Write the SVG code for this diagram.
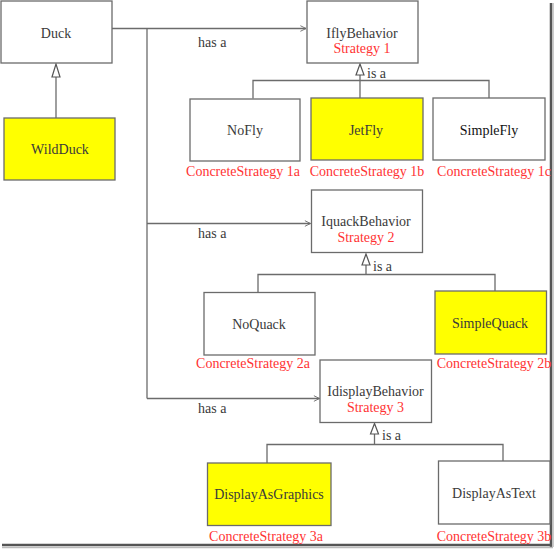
<svg xmlns="http://www.w3.org/2000/svg" width="555" height="549" viewBox="0 0 555 549">
<defs>
<style>
.box{fill:#fff;stroke:#6b6b6b;stroke-width:1.3}
.hl{fill:#ffff00;stroke:#6b6b6b;stroke-width:1.3}
.t{font-family:"Liberation Serif","DejaVu Serif",serif;font-size:14px;fill:#3a3a3a;text-anchor:middle}
.r{font-family:"Liberation Serif","DejaVu Serif",serif;font-size:14px;fill:#ff3333;text-anchor:middle}
.lb{font-family:"Liberation Serif","DejaVu Serif",serif;font-size:14px;fill:#3a3a3a}
.ln{fill:none;stroke:#6b6b6b;stroke-width:1.3}
.tri{fill:#fff;stroke:#555;stroke-width:1.2}
</style>
<marker id="open" viewBox="0 0 10 10" refX="9" refY="5" markerWidth="7" markerHeight="7" orient="auto" markerUnits="userSpaceOnUse">
<path d="M1,1 L9,5 L1,9" fill="none" stroke="#6b6b6b" stroke-width="1.3"/>
</marker>
</defs>
<rect width="555" height="549" fill="#fff"/>

<g id="frame">
<line x1="551" y1="3" x2="551" y2="547" stroke="#555" stroke-width="2.5"/>
<line x1="553" y1="3" x2="553" y2="547" stroke="#bbb" stroke-width="1.5"/>
<line x1="2" y1="545" x2="552" y2="545" stroke="#555" stroke-width="2.5"/>
<line x1="2" y1="547.5" x2="553" y2="547.5" stroke="#bbb" stroke-width="1.5"/>
</g>

<g id="connectors">
<polyline class="ln" points="56,77 56,118"/>
<polygon class="tri" points="56,64 52,77 60,77"/>
<line class="ln" x1="112" y1="28.5" x2="306" y2="28.5" marker-end="url(#open)"/>
<line class="ln" x1="147" y1="28.5" x2="147" y2="398.5"/>
<line class="ln" x1="147" y1="223.5" x2="310.5" y2="223.5" marker-end="url(#open)"/>
<line class="ln" x1="147" y1="398.5" x2="319.5" y2="398.5" marker-end="url(#open)"/>

<polyline class="ln" points="253,98.5 253,80.5 489,80.5 489,98"/>
<line class="ln" x1="360" y1="75" x2="360" y2="98"/>
<polygon class="tri" points="360,64 356,75 364,75"/>

<polyline class="ln" points="258,292.5 258,274.5 495,274.5 495,291"/>
<line class="ln" x1="366" y1="265" x2="366" y2="274.5"/>
<polygon class="tri" points="366,254 362,265 370,265"/>

<polyline class="ln" points="267,463 267,444.5 503,444.5 503,461"/>
<line class="ln" x1="374.5" y1="434" x2="374.5" y2="444.5"/>
<polygon class="tri" points="374.5,423.5 370.5,434 378.5,434"/>

<text class="lb" x="198" y="47">has a</text>
<text class="lb" x="198" y="238">has a</text>
<text class="lb" x="198" y="413">has a</text>
<text class="lb" x="367" y="78">is a</text>
<text class="lb" x="373" y="271">is a</text>
<text class="lb" x="382" y="440">is a</text>
</g>

<g id="Duck">
<rect class="box" x="1" y="1" width="111" height="62"/>
<text class="t" x="56" y="38">Duck</text>
</g>
<g id="WildDuck">
<rect class="hl" x="4" y="118" width="111" height="62"/>
<text class="t" x="60" y="154">WildDuck</text>
</g>

<g id="IflyBehavior">
<rect class="box" x="307" y="1" width="111" height="62"/>
<text class="t" x="362" y="38">IflyBehavior</text>
<text class="r" x="362" y="53">Strategy 1</text>
</g>
<g id="NoFly">
<rect class="box" x="190" y="99" width="110" height="62"/>
<text class="t" x="245" y="135">NoFly</text>
<text class="r" x="243" y="176">ConcreteStrategy 1a</text>
</g>
<g id="JetFly">
<rect class="hl" x="311" y="98" width="112" height="62"/>
<text class="t" x="366" y="135">JetFly</text>
<text class="r" x="367" y="176">ConcreteStrategy 1b</text>
</g>
<g id="SimpleFly">
<rect class="box" x="433" y="98" width="112" height="62"/>
<text class="t" x="489" y="135" style="fill:#111">SimpleFly</text>
<text class="r" x="494" y="176">ConcreteStrategy 1c</text>
</g>

<g id="IquackBehavior">
<rect class="box" x="311.5" y="190" width="111" height="62.5"/>
<text class="t" x="366" y="226">IquackBehavior</text>
<text class="r" x="366" y="242">Strategy 2</text>
</g>
<g id="NoQuack">
<rect class="box" x="204" y="292.5" width="111" height="62.5"/>
<text class="t" x="259" y="329">NoQuack</text>
<text class="r" x="253" y="368">ConcreteStrategy 2a</text>
</g>
<g id="SimpleQuack">
<rect class="hl" x="435" y="291" width="111.5" height="63"/>
<text class="t" x="490" y="328">SimpleQuack</text>
<text class="r" x="494" y="368">ConcreteStrategy 2b</text>
</g>

<g id="IdisplayBehavior">
<rect class="box" x="320" y="360" width="111.5" height="62.5"/>
<text class="t" x="375.5" y="396">IdisplayBehavior</text>
<text class="r" x="375.5" y="412">Strategy 3</text>
</g>
<g id="DisplayAsGraphics">
<rect class="hl" x="207.5" y="463" width="123.5" height="62.5"/>
<text class="t" x="269" y="499">DisplayAsGraphics</text>
<text class="r" x="266" y="541">ConcreteStrategy 3a</text>
</g>
<g id="DisplayAsText">
<rect class="box" x="438.5" y="461" width="111.5" height="63"/>
<text class="t" x="494" y="498">DisplayAsText</text>
<text class="r" x="494" y="541">ConcreteStrategy 3b</text>
</g>
</svg>
